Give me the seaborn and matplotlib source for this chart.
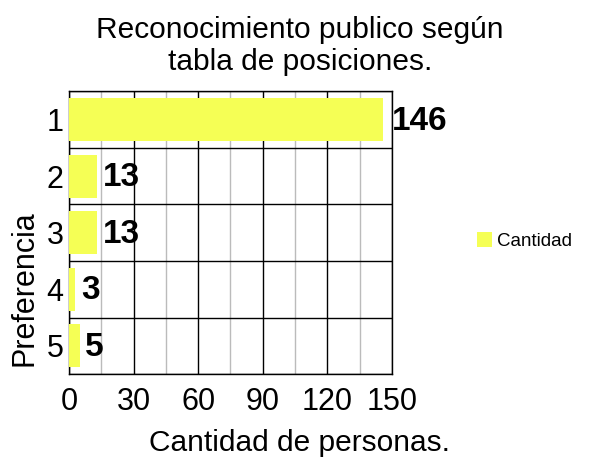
import matplotlib
matplotlib.use("Agg")
import matplotlib.pyplot as plt
import seaborn as sns
import pandas as pd
from matplotlib.ticker import MultipleLocator

# Data
posiciones = ["1", "2", "3", "4", "5"]
cantidad = [146, 13, 13, 3, 5]
xticks = [0, 30, 60, 90, 120, 150]

df = pd.DataFrame({"Preferencia": posiciones, "Cantidad": cantidad})

sns.set_style("white")
plt.rcParams["font.family"] = ["Liberation Sans", "DejaVu Sans"]
plt.rcParams["text.color"] = "black"
plt.rcParams["axes.labelcolor"] = "black"
plt.rcParams["xtick.color"] = "black"
plt.rcParams["ytick.color"] = "black"

fig = plt.figure(figsize=(6, 4.63), dpi=100)
ax = fig.add_axes([0.115, 0.192, 0.538, 0.611])

sns.barplot(data=df, x="Cantidad", y="Preferencia", color="#f5ff55",
            saturation=1, width=0.76, linewidth=0, label="Cantidad",
            ax=ax, zorder=3)

ax.set_xlim(0, 150)
ax.set_ylim(4.5, -0.5)
ax.set_xticks(xticks)
ax.xaxis.set_minor_locator(MultipleLocator(15))
ax.grid(axis="x", which="major", color="black", linewidth=1, zorder=0)
ax.grid(axis="x", which="minor", color="#bbbbbb", linewidth=1, zorder=0)

# category separators
ax.set_yticks([i + 0.5 for i in range(-1, 5)], minor=True)
ax.grid(axis="y", which="minor", color="black", linewidth=1, zorder=0)
ax.tick_params(axis="y", which="minor", length=5, color="black", width=1)
ax.tick_params(axis="y", which="major", length=0, labelsize=22, pad=4)
ax.tick_params(axis="x", which="major", length=4, color="black",
               labelsize=22, pad=5)
ax.tick_params(axis="x", which="minor", length=0)

for s in ax.spines.values():
    s.set_color("black")
    s.set_linewidth(1)

for i, v in enumerate(cantidad):
    off = 4.2 if v > 100 else 2.6
    ax.text(v + off, i + 0.03, str(v), va="center", ha="left",
            fontsize=24, fontweight="bold", zorder=4)

# title, centred on the figure
fig.text(0.5, 0.918, "Reconocimiento publico según", ha="center",
         va="baseline", fontsize=21.5)
fig.text(0.5, 0.849, "tabla de posiciones.", ha="center",
         va="baseline", fontsize=21.5)

ax.set_xlabel("Cantidad de personas.", fontsize=21.5)
ax.xaxis.set_label_coords(0.715, -0.195)
ax.set_ylabel("Preferencia", fontsize=22)
ax.yaxis.set_label_coords(-0.09, 0.304)

ax.legend(loc="center left", bbox_to_anchor=(1.212, 0.47), frameon=False,
          fontsize=13.5, handlelength=0.8, handleheight=0.8,
          handletextpad=0.25)

fig.savefig("out.png", dpi=100)
